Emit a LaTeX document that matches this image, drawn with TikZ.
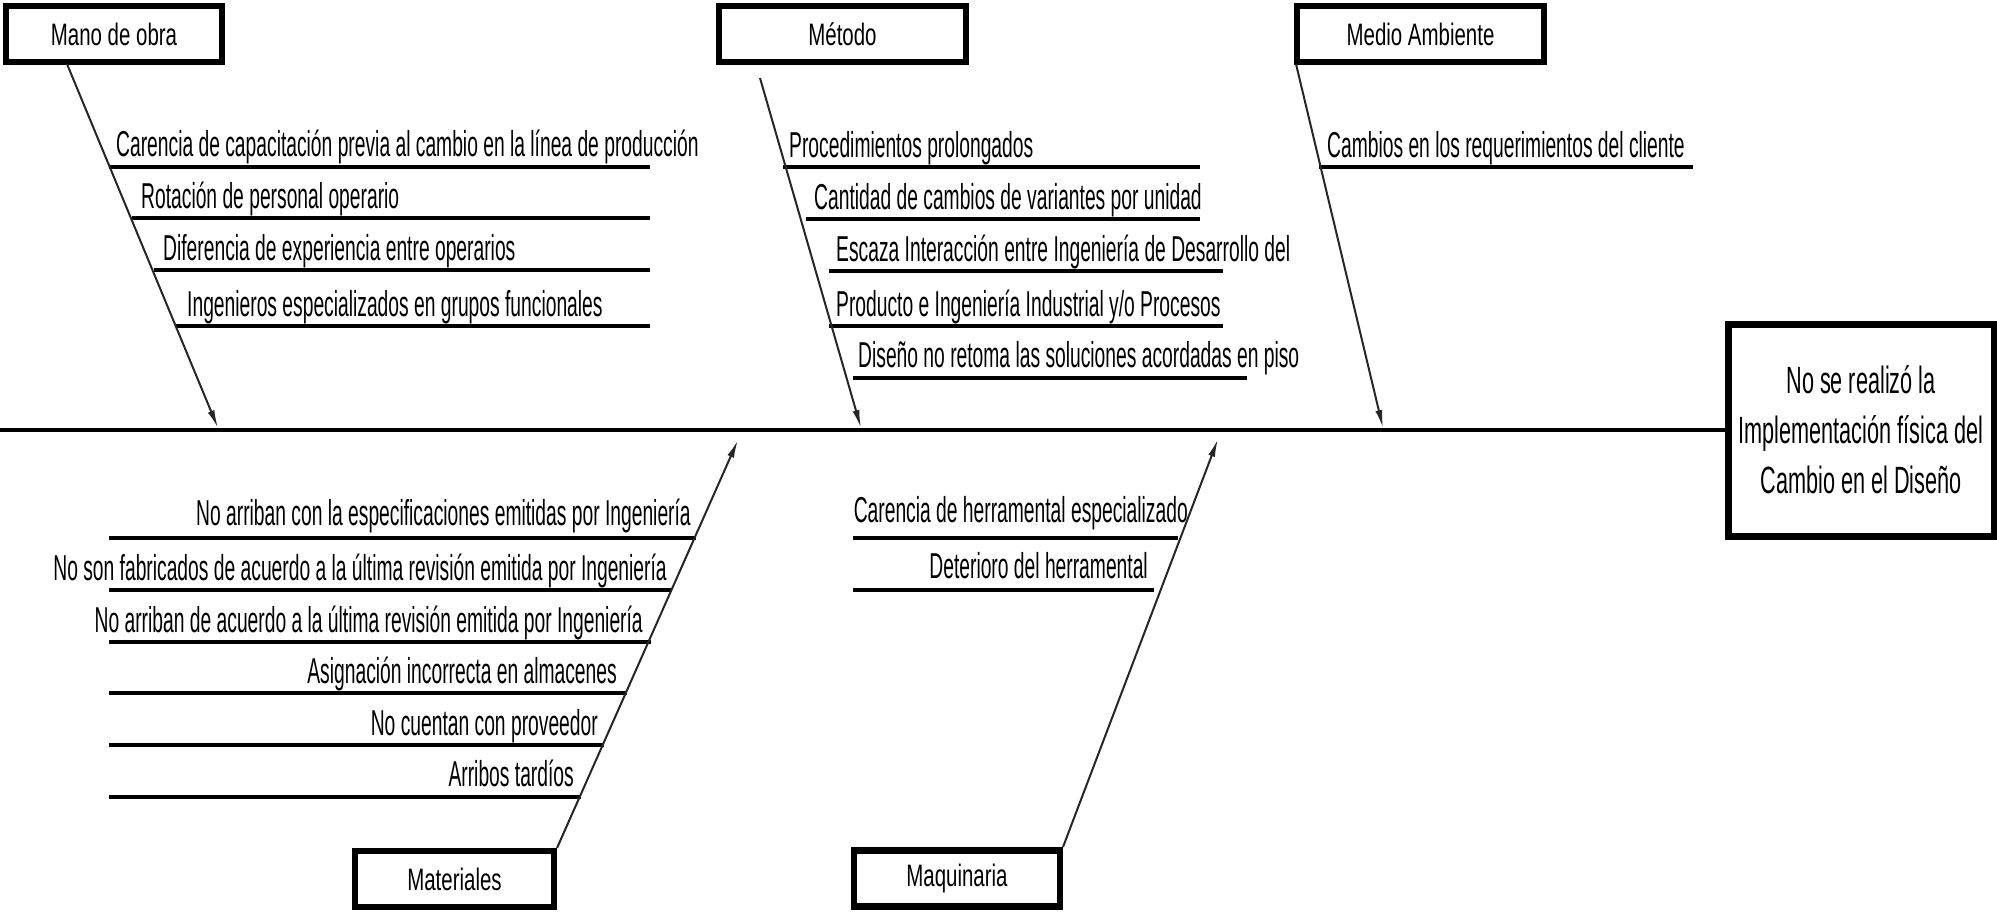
\documentclass[tikz,border=0pt]{standalone}
\usepackage{fontspec}
\usetikzlibrary{arrows.meta}
% narrow sans faces for the diagram texts
\newfontfamily\causefont[FakeStretch=0.535]{Liberation Sans}
\newfontfamily\catfont[FakeStretch=0.66]{Liberation Sans}
\newfontfamily\effectfont[FakeStretch=0.57]{Liberation Sans}

\begin{document}
\begin{tikzpicture}[x=1pt,y=-1pt,
  category/.style={draw, line width=6.5pt, inner sep=0pt,
    font=\catfont\fontsize{31}{34}\selectfont},
  effectbox/.style={draw, line width=7pt, inner sep=0pt, align=center,
    font=\effectfont\fontsize{38}{50}\selectfont},
  cause/.style={inner sep=0pt, font=\causefont\fontsize{36}{40}\selectfont},
  causeline/.style={line width=4.5pt},
  bone/.style={line width=2pt, draw=black!85,
    -{Latex[length=18pt,width=7pt]}},
  spine/.style={line width=4.5pt}]

\useasboundingbox (0,0) rectangle (1997,911);

% ---------- head and spine ----------
\node[effectbox, minimum width=266pt, minimum height=212pt] (efecto) at (1861,430)
  {No se realizó la\\Implementación física del\\Cambio en el Diseño};
\coordinate (tail) at (0,430);
\draw[spine] (tail) -- (efecto.west);

% ---------- category boxes ----------
\node[category, minimum width=216pt, minimum height=56pt] (mano)   at (114,34)    {Mano de obra};
\node[category, minimum width=247pt, minimum height=56pt] (metodo) at (842.5,34)  {Método};
\node[category, minimum width=247pt, minimum height=56pt] (medio)  at (1420.5,34) {Medio Ambiente};
\node[category, minimum width=199pt, minimum height=56pt] (mat)    at (454.5,879) {Materiales};
\node[category, minimum width=206pt, minimum height=56pt] (maq)    at (957,878.5) {Maquinaria};

% ---------- Mano de obra ----------
\draw[causeline] (109,167) -- (650,167);
\draw[causeline] (132,218) -- (650,218);
\draw[causeline] (154,270) -- (650,270);
\draw[causeline] (176,326) -- (650,326);
\node[cause, anchor=base west] (m1) at (116,156) {Carencia de capacitación previa al cambio en la línea de producción};
\node[cause, anchor=base west] (m2) at (141,208) {Rotación de personal operario};
\node[cause, anchor=base west] (m3) at (163,260) {Diferencia de experiencia entre operarios};
\node[cause, anchor=base west] (m4) at (187,316) {Ingenieros especializados en grupos funcionales};
\coordinate (manoS) at (67,64);
\coordinate (manoT) at (218,428);
\draw[bone] (manoS) -- (manoT);

% ---------- Método ----------
\draw[causeline] (783,167) -- (1200,167);
\draw[causeline] (806,219) -- (1200,219);
\draw[causeline] (829,271) -- (1223,271);
\draw[causeline] (829,326) -- (1223,326);
\draw[causeline] (853,378) -- (1247,378);
\node[cause, anchor=base west] (t1) at (789,157) {Procedimientos prolongados};
\node[cause, anchor=base west] (t2) at (814,209) {Cantidad de cambios de variantes por unidad};
\node[cause, anchor=base west] (t3) at (836,261) {Escaza Interacción entre Ingeniería de Desarrollo del};
\node[cause, anchor=base west] (t4) at (836,316) {Producto e Ingeniería Industrial y/o Procesos};
\node[cause, anchor=base west] (t5) at (858,367) {Diseño no retoma las soluciones acordadas en piso};
\coordinate (metodoS) at (760,78);
\coordinate (metodoT) at (861,428);
\draw[bone] (metodoS) -- (metodoT);

% ---------- Medio Ambiente ----------
\draw[causeline] (1319,167) -- (1693,167);
\node[cause, anchor=base west] (a1) at (1327,157) {Cambios en los requerimientos del cliente};
\coordinate (medioS) at (1296,64);
\coordinate (medioT) at (1383,428);
\draw[bone] (medioS) -- (medioT);

% ---------- Materiales ----------
\draw[causeline] (109,538) -- (696,538);
\draw[causeline] (109,590) -- (672,590);
\draw[causeline] (109,642) -- (651,642);
\draw[causeline] (109,693) -- (627,693);
\draw[causeline] (109,745) -- (604,745);
\draw[causeline] (109,797) -- (581,797);
\node[cause, anchor=base east] (s1) at (691,525) {No arriban con la especificaciones emitidas por Ingeniería};
\node[cause, anchor=base east] (s2) at (667,580) {No son fabricados de acuerdo a la última revisión emitida por Ingeniería};
\node[cause, anchor=base east] (s3) at (643,632) {No arriban de acuerdo a la última revisión emitida por Ingeniería};
\node[cause, anchor=base east] (s4) at (617,683) {Asignación incorrecta en almacenes};
\node[cause, anchor=base east] (s5) at (598,735) {No cuentan con proveedor};
\node[cause, anchor=base east] (s6) at (574,786) {Arribos tardíos};
\coordinate (matS) at (557,848);
\coordinate (matT) at (738,440);
\draw[bone] (matS) -- (matT);

% ---------- Maquinaria ----------
\draw[causeline] (853,538) -- (1178,538);
\draw[causeline] (853,590) -- (1154,590);
\node[cause, anchor=base east] (q1) at (1188,522) {Carencia de herramental especializado};
\node[cause, anchor=base east] (q2) at (1148,578) {Deterioro del herramental};
\coordinate (maqS) at (1063,847);
\coordinate (maqT) at (1218,439);
\draw[bone] (maqS) -- (maqT);

\end{tikzpicture}
\end{document}
